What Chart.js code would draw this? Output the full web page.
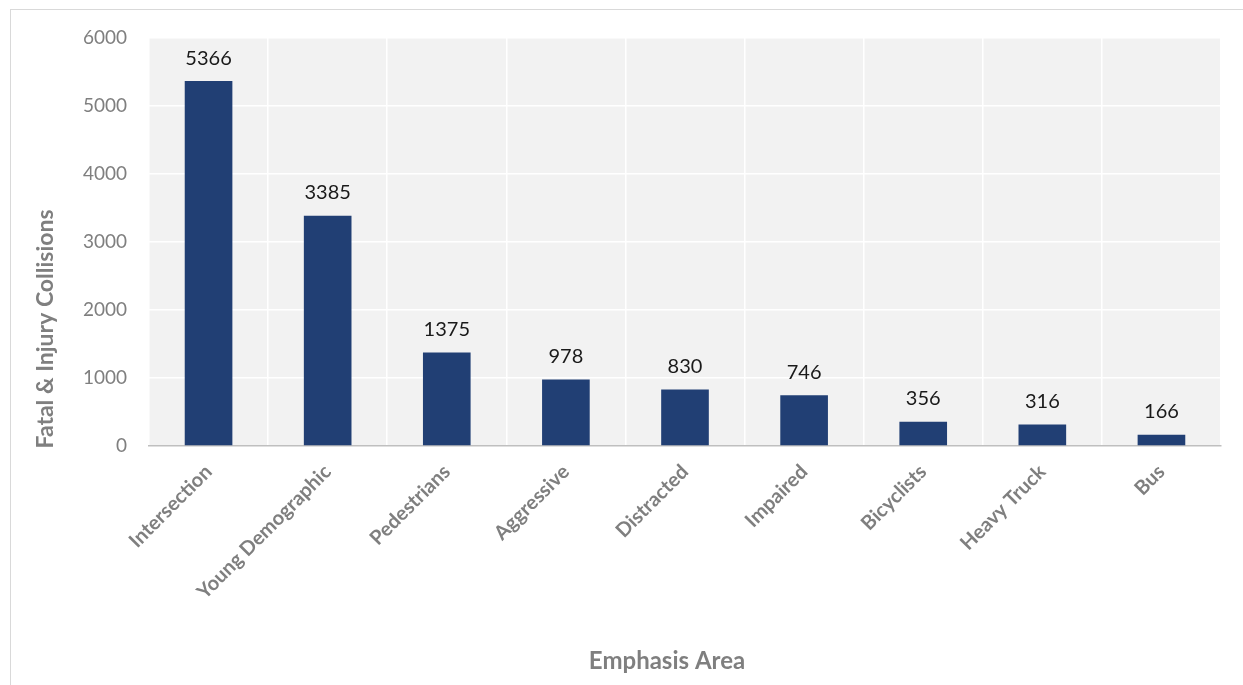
<!DOCTYPE html>
<html lang="en">
<head>
    <meta charset="UTF-8">
    <title>Fatal & Injury Collisions by Emphasis Area</title>
    <script src="https://cdn.jsdelivr.net/npm/chart.js"></script>
    <style>
        html, body { margin: 0; padding: 0; background: #fff; }
        #frame {
            position: absolute; left: 10px; top: 9px; right: 0; bottom: 0;
            border-top: 1px solid #d9d9d9; border-left: 1px solid #d9d9d9;
        }
        #frame canvas { display: block; }
    </style>
</head>
<body>
    <div id="frame"><canvas id="chart"></canvas></div>
    <script>
        const categories = ["Intersection", "Young Demographic", "Pedestrians", "Aggressive", "Distracted", "Impaired", "Bicyclists", "Heavy Truck", "Bus"];
        const collisions = [5366, 3385, 1375, 978, 830, 746, 356, 316, 166];
        const yTicks = [0, 1000, 2000, 3000, 4000, 5000, 6000];
        const xTitle = "Emphasis Area";
        const yTitle = "Fatal & Injury Collisions";

        const FONT = "Lato, 'Open Sans', sans-serif";
        const GREY = "#7f7f7f";

        // grey plot background
        const plotBg = {
            id: "plotBg",
            beforeDraw(chart) {
                const { ctx, chartArea: a } = chart;
                ctx.save();
                ctx.fillStyle = "#f2f2f2";
                ctx.fillRect(a.left, a.top, a.right - a.left, a.bottom - a.top);
                ctx.restore();
            }
        };

        // values above the bars + axis titles (placed like the original, not centred on the plot)
        const labelsPlugin = {
            id: "labelsPlugin",
            afterDatasetsDraw(chart) {
                const { ctx, chartArea: a } = chart;
                const meta = chart.getDatasetMeta(0);
                ctx.save();
                ctx.font = "20px " + FONT;
                ctx.fillStyle = "#1a1a1a";
                ctx.textAlign = "center";
                ctx.textBaseline = "bottom";
                meta.data.forEach((bar, i) => {
                    ctx.fillText(collisions[i], bar.x, bar.y - 13);
                });

                ctx.fillStyle = GREY;
                ctx.font = "bold 24px " + FONT;
                ctx.textBaseline = "middle";
                ctx.fillText(xTitle, (a.left + a.right) / 2 - 18, 651);

                ctx.font = "bold 23px " + FONT;
                ctx.translate(35, 319);
                ctx.rotate(-Math.PI / 2);
                ctx.fillText(yTitle, 0, 0);
                ctx.restore();
            }
        };

        new Chart(document.getElementById("chart"), {
            type: "bar",
            data: {
                labels: categories,
                datasets: [{
                    data: collisions,
                    backgroundColor: "#213f74",
                    barPercentage: 0.4,
                    categoryPercentage: 1.0
                }]
            },
            options: {
                responsive: true,
                maintainAspectRatio: false,
                animation: false,
                layout: { padding: { top: 28, right: 22, left: 0, bottom: 0 } },
                plugins: {
                    legend: { display: false },
                    tooltip: { enabled: false }
                },
                scales: {
                    x: {
                        grid: { color: "#ffffff", lineWidth: 1.5, drawTicks: false, offset: true },
                        border: { color: "#bfbfbf", width: 1.5 },
                        ticks: {
                            color: GREY,
                            font: { family: FONT, size: 20, weight: "bold" },
                            minRotation: 45, maxRotation: 45,
                            padding: 14,
                            autoSkip: false
                        },
                        afterFit(scale) { scale.height = 239; }
                    },
                    y: {
                        min: 0, max: 6000,
                        afterBuildTicks(scale) { scale.ticks = yTicks.map(v => ({ value: v })); },
                        grid: {
                            color: ctx => ctx.tick && ctx.tick.value === 0 ? "rgba(0,0,0,0)" : "#ffffff",
                            lineWidth: 1.5,
                            drawTicks: false
                        },
                        border: { display: false },
                        ticks: {
                            color: GREY,
                            font: { family: FONT, size: 19 },
                            padding: 22,
                            callback: v => String(v)
                        },
                        afterFit(scale) {
                            scale.width = 138;
                            scale.paddingTop = 0;
                            scale.paddingBottom = 0;
                        }
                    }
                }
            },
            plugins: [plotBg, labelsPlugin]
        });
    </script>
</body>
</html>
